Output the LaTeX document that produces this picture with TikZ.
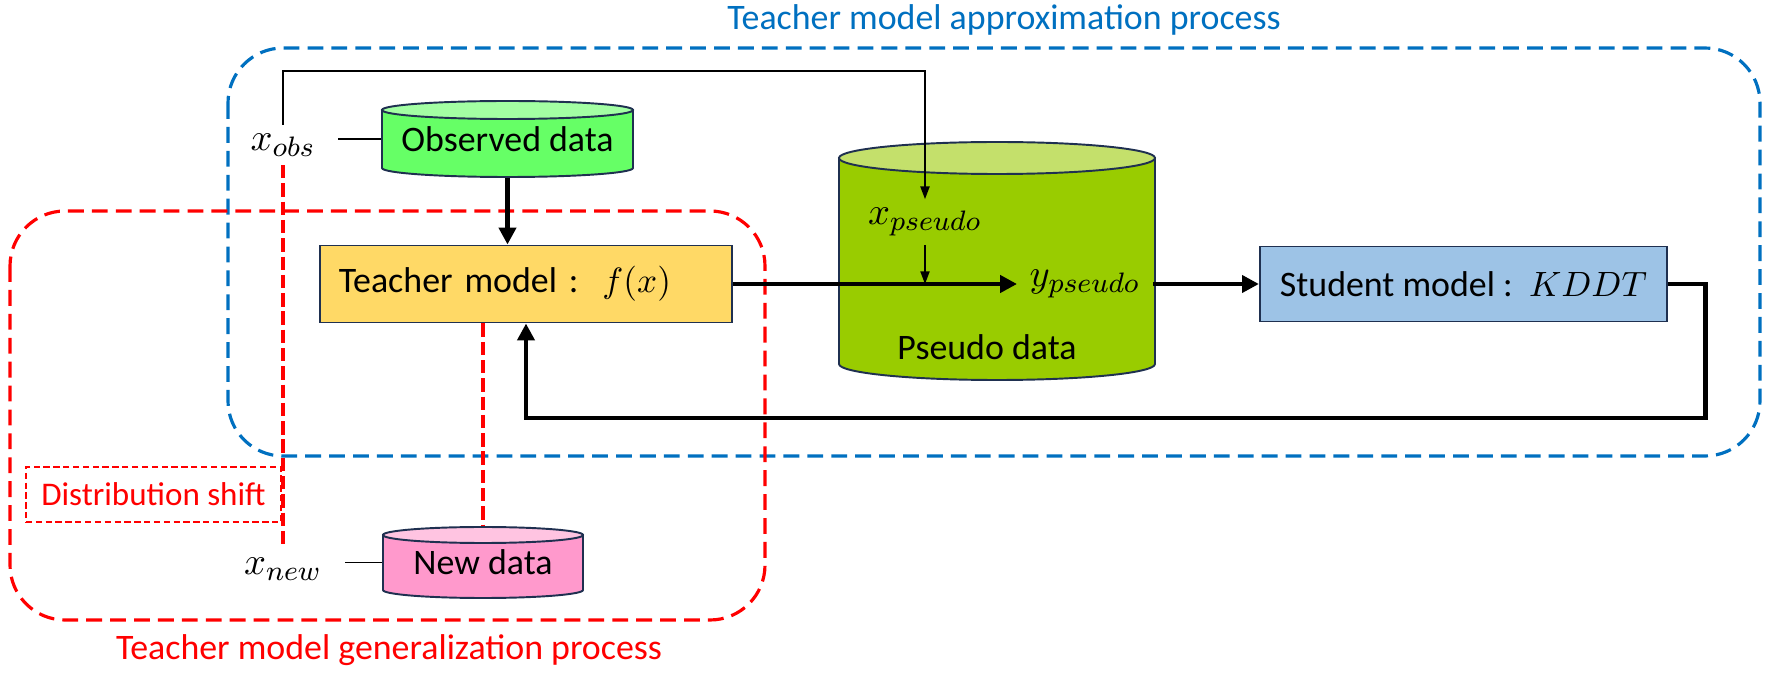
\documentclass[tikz,border=0pt]{standalone}
\usepackage{fontspec}
\setmainfont{Carlito}
\usetikzlibrary{arrows.meta}

\definecolor{zoneblue}{HTML}{0070C0}
\definecolor{zonered}{HTML}{FF0000}
\definecolor{outline}{HTML}{1F3050}
\definecolor{teachfill}{HTML}{FFD966}
\definecolor{studfill}{HTML}{9DC3E6}
\definecolor{obsbody}{HTML}{66FF66}
\definecolor{obstop}{HTML}{A3FFA3}
\definecolor{pseudobody}{HTML}{99CC00}
\definecolor{pseudotop}{HTML}{C4E06B}
\definecolor{newbody}{HTML}{FF99CC}
\definecolor{newtop}{HTML}{FFC4E1}

% data drum: centre x, top y, bottom y, x radius, y radius, body colour, lid colour
\newcommand{\dbdrum}[7]{%
  \filldraw[fill=#6, draw=outline, line width=0.55pt]
    ({#1-#4},{#2+#5}) -- ({#1-#4},{#3-#5})
    arc[start angle=180, end angle=360, x radius={#4*0.01cm}, y radius={#5*0.01cm}]
    -- ({#1+#4},{#2+#5}) -- cycle;
  \filldraw[fill=#7, draw=outline, line width=0.55pt]
    (#1,{#2+#5}) ellipse[x radius={#4*0.01cm}, y radius={#5*0.01cm}];
}

\begin{document}
\begin{tikzpicture}[x=0.01cm, y=-0.01cm,
    every node/.style={font=\fontsize{10.2pt}{12pt}\selectfont},
    procbox/.style={draw=outline, line width=0.55pt, inner sep=0pt},
    drumtext/.style={inner sep=0pt},
    varlbl/.style={inner xsep=0.22cm, inner ysep=0.08cm, font=\fontsize{11pt}{13pt}\selectfont},
    thinlink/.style={line width=0.45pt},
    thinarrow/.style={line width=0.45pt, -{Triangle[length=3.6pt, width=2.6pt]}},
    flowarrow/.style={line width=1.4pt, -{Triangle[length=4.8pt, width=4.8pt]}},
    zonebox/.style={line width=0.9pt, dash pattern=on 4.5pt off 2.3pt, rounded corners=0.55cm},
    driftline/.style={draw=zonered, line width=0.9pt, dash pattern=on 3.8pt off 1.4pt}]
        \useasboundingbox (0,0) rectangle (1768,676);

        % the two processes
        \draw[zonebox, draw=zoneblue] (228,48) rectangle (1760,456);
        \draw[zonebox, draw=zonered] (10,211) rectangle (765,620);
        \node[text=zoneblue] (approxtitle) at (1004,20) {Teacher model approximation process};
        \node[text=zonered] (gentitle) at (389,650) {Teacher model generalization process};

        % data stores
        \dbdrum{507.5}{101}{177}{125.5}{9}{obsbody}{obstop}
        \dbdrum{997}{142}{380}{158}{16}{pseudobody}{pseudotop}
        \dbdrum{483}{527}{598}{100}{8}{newbody}{newtop}
        \node[drumtext, minimum width=2.51cm, minimum height=0.76cm] (obs) at (507.5,139) {Observed data};
        \node[drumtext, minimum width=3.16cm, minimum height=2.38cm] (pseudo) at (997,261) {};
        \node[drumtext] (pseudolbl) at (987,347) {Pseudo data};
        \node[drumtext, minimum width=2cm, minimum height=0.71cm] (new) at (483,562.5) {New data};

        % models
        \node[procbox, fill=teachfill, minimum width=4.12cm, minimum height=0.77cm,
              inner xsep=0.19cm, text width=3.74cm, align=left] (teacher) at (526,284) {Teacher model :~~$f(x)$};
        \node[procbox, fill=studfill, minimum width=4.07cm, minimum height=0.75cm] (student) at (1463.5,284) {Student model :~~$KDDT$};

        % variables
        \node[varlbl] (xobs) at (283,145) {$x_{obs}$};
        \node[varlbl] (xnew) at (283,569) {$x_{new}$};
        \node[varlbl] (xpseudo) at (925,222) {$x_{pseudo}$};
        \node[varlbl, inner xsep=0.12cm] (ypseudo) at (1085,284) {$y_{pseudo}$};
        \node[draw=zonered, line width=0.4pt, dash pattern=on 1.8pt off 1pt, text=zonered,
              font=\fontsize{9.4pt}{11pt}\selectfont, inner xsep=0.1cm,
              minimum width=2.55cm, minimum height=0.55cm] (shiftbox) at (153.5,494.5) {Distribution shift};
        \coordinate (toprail) at (600,71);

        \draw[thinlink] (obs.west) -- (obs.west -| xobs.east);
        \draw[thinlink] (new.west) -- (new.west -| xnew.east);
        \draw[thinarrow] (xobs.north) |- (toprail) -| (xpseudo.north);
        \draw[thinarrow] (xpseudo.south) -- (xpseudo.south |- teacher.east);
        \draw[flowarrow] (obs.south) -- (obs.south |- teacher.north);
        \draw[flowarrow] (teacher.east) -- (ypseudo.west);
        \draw[flowarrow] (ypseudo.east) -- (student.west);
        \draw[flowarrow] (student.east) -- ++(37,0) -- ++(0,134) -| (teacher.south);

        \draw[driftline] (xobs.south) -- (xnew.north);
        \draw[driftline, line width=1.2pt] (new.north |- teacher.south) -- (new.north);
\end{tikzpicture}
\end{document}
